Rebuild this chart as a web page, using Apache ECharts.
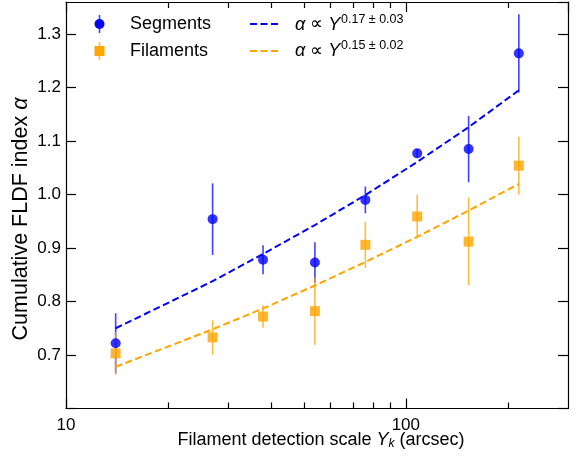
<!DOCTYPE html>
<html>
<head>
<meta charset="utf-8">
<script src="https://cdn.jsdelivr.net/npm/echarts@6/dist/echarts.min.js"></script>
<style>
  html, body { margin: 0; padding: 0; background: #fff; }
  #chart { width: 578px; height: 459px; }
</style>
</head>
<body>
<div id="chart"></div>
<script>
// filament detection scales (arcsec)
const scales = [14, 27, 38, 54, 76, 108, 153, 215]
// segments
const segAlpha = [0.722, 0.954, 0.878, 0.873, 0.990, 1.077, 1.085, 1.264]
const segErr = [0.056, 0.067, 0.027, 0.038, 0.025, 0.008, 0.062, 0.073]
// filaments
const filAlpha = [0.703, 0.733, 0.772, 0.782, 0.906, 0.959, 0.912, 1.054]
const filErr = [0.040, 0.032, 0.021, 0.063, 0.043, 0.041, 0.082, 0.054]
// fitted power laws
const segFit = [0.750, 0.838, 0.889, 0.943, 0.999, 1.061, 1.126, 1.195]
const filFit = [0.678, 0.748, 0.787, 0.830, 0.874, 0.921, 0.970, 1.020]
// minor ticks on the log axis
const minorTicks = [20, 30, 40, 50, 60, 70, 80, 90, 200]
const yTicks = [0.7, 0.8, 0.9, 1.0, 1.1, 1.2, 1.3]

const BLUE = '#0000ff'
const ORANGE = '#ffa500'
const FONT = '"Liberation Sans", Arial, Helvetica, sans-serif'

const chart = echarts.init(document.getElementById('chart'))

const pts = (ys) => scales.map((x, i) => [x, ys[i]])
const bars = (ys, es) => scales.map((x, i) => [x, ys[i] - es[i], ys[i] + es[i]])

function errBar (color) {
  return function (params, api) {
    const a = api.coord([api.value(0), api.value(1)])
    const b = api.coord([api.value(0), api.value(2)])
    return {
      type: 'line',
      shape: { x1: a[0], y1: a[1], x2: b[0], y2: b[1] },
      style: { stroke: color, lineWidth: 1.6, opacity: 0.75 }
    }
  }
}

function minorTick (params, api) {
  const cs = params.coordSys
  const p = api.coord([api.value(0), api.value(1)])
  const x = Math.round(p[0]) + 0.5
  const top = cs.y
  const bottom = cs.y + cs.height
  return {
    type: 'group',
    children: [
      { type: 'line', shape: { x1: x, y1: bottom, x2: x, y2: bottom - 6 }, style: { stroke: '#000', lineWidth: 1.2 } },
      { type: 'line', shape: { x1: x, y1: top, x2: x, y2: top + 6 }, style: { stroke: '#000', lineWidth: 1.2 } }
    ]
  }
}

const axisCommon = {
  axisLine: { show: true, onZero: false, lineStyle: { color: '#000', width: 1.2 } },
  axisTick: { show: true, inside: true, length: 10, lineStyle: { color: '#000', width: 1.2 } },
  splitLine: { show: false }
}

const xBase = {
  type: 'log',
  logBase: 10,
  min: 10,
  max: 300
}
const yBase = {
  type: 'value',
  min: 0.6,
  max: 1.36,
  interval: 0.1
}

const option = {
  animation: false,
  backgroundColor: '#fff',
  grid: { left: 66, right: 10, top: 2, bottom: 50.5 },
  xAxis: [
    Object.assign({}, xBase, axisCommon, {
      position: 'bottom',
      axisLabel: {
        color: '#000', fontSize: 17, fontFamily: FONT, margin: 8,
        showMaxLabel: false,
        formatter: v => (Math.abs(v - 10) < 1e-6 || Math.abs(v - 100) < 1e-6) ? String(Math.round(v)) : ''
      }
    }),
    Object.assign({}, xBase, axisCommon, {
      position: 'top',
      axisLabel: { show: false }
    })
  ],
  yAxis: [
    Object.assign({}, yBase, axisCommon, {
      position: 'left',
      axisLabel: {
        color: '#000', fontSize: 17, fontFamily: FONT, margin: 5,
        showMaxLabel: false,
        formatter: v => yTicks.some(t => Math.abs(t - v) < 1e-6) ? v.toFixed(1) : ''
      }
    }),
    Object.assign({}, yBase, axisCommon, {
      position: 'right',
      axisLabel: { show: false }
    })
  ],
  series: [
    {
      type: 'custom', name: 'minor', data: minorTicks.map(v => [v, 1]),
      encode: { x: 0, y: 1 },
      renderItem: minorTick, silent: true, clip: false, z: 1
    },
    {
      type: 'custom', name: 'segErr', data: bars(segAlpha, segErr),
      renderItem: errBar(BLUE), encode: { x: 0, y: [1, 2] }, z: 2
    },
    {
      type: 'custom', name: 'filErr', data: bars(filAlpha, filErr),
      renderItem: errBar(ORANGE), encode: { x: 0, y: [1, 2] }, z: 3
    },
    {
      type: 'scatter', name: 'Segments', data: pts(segAlpha),
      symbol: 'circle', symbolSize: 10, itemStyle: { color: BLUE }, z: 4
    },
    {
      type: 'scatter', name: 'Filaments', data: pts(filAlpha),
      symbol: 'rect', symbolSize: 10, itemStyle: { color: ORANGE }, z: 5
    },
    {
      type: 'line', name: 'segFit', data: pts(segFit), showSymbol: false, symbol: 'none',
      lineStyle: { color: BLUE, width: 2, type: [7, 3.5] }, z: 6
    },
    {
      type: 'line', name: 'filFit', data: pts(filFit), showSymbol: false, symbol: 'none',
      lineStyle: { color: ORANGE, width: 2, type: [7, 3.5] }, z: 6
    }
  ],
  graphic: [
    // legend: errorbar markers
    { type: 'line', shape: { x1: 99.5, y1: 15, x2: 99.5, y2: 33 }, style: { stroke: BLUE, lineWidth: 1.6, opacity: 0.75 } },
    { type: 'circle', shape: { cx: 99.5, cy: 24, r: 5 }, style: { fill: BLUE } },
    { type: 'text', x: 130, y: 24.5, style: { text: 'Segments', fontSize: 18, fontFamily: FONT, fill: '#000', verticalAlign: 'middle' } },
    { type: 'line', shape: { x1: 99.5, y1: 42, x2: 99.5, y2: 60 }, style: { stroke: ORANGE, lineWidth: 1.6, opacity: 0.75 } },
    { type: 'rect', shape: { x: 94.5, y: 46, width: 10, height: 10 }, style: { fill: ORANGE } },
    { type: 'text', x: 130, y: 51, style: { text: 'Filaments', fontSize: 18, fontFamily: FONT, fill: '#000', verticalAlign: 'middle' } },
    // legend: fit lines
    { type: 'line', shape: { x1: 250, y1: 24, x2: 281, y2: 24 }, style: { stroke: BLUE, lineWidth: 2, lineDash: [7, 3.5] } },
    {
      type: 'text', x: 295, y: 24.5,
      style: {
        text: '{i|α} ∝ {i|Y}', fontSize: 18, fontFamily: FONT, fill: '#000', verticalAlign: 'middle',
        rich: { i: { fontStyle: 'italic', fontSize: 18, fontFamily: FONT } }
      }
    },
    { type: 'text', x: 341, y: 19.5, style: { text: '0.17 ± 0.03', fontSize: 12.5, fontFamily: FONT, fill: '#000', verticalAlign: 'middle' } },
    { type: 'line', shape: { x1: 250, y1: 51, x2: 281, y2: 51 }, style: { stroke: ORANGE, lineWidth: 2, lineDash: [7, 3.5] } },
    {
      type: 'text', x: 295, y: 51,
      style: {
        text: '{i|α} ∝ {i|Y}', fontSize: 18, fontFamily: FONT, fill: '#000', verticalAlign: 'middle',
        rich: { i: { fontStyle: 'italic', fontSize: 18, fontFamily: FONT } }
      }
    },
    { type: 'text', x: 341, y: 46, style: { text: '0.15 ± 0.02', fontSize: 12.5, fontFamily: FONT, fill: '#000', verticalAlign: 'middle' } },
    // axis titles
    {
      type: 'text', x: 321, y: 440,
      style: {
        text: 'Filament detection scale {i|Y}{sub|k} (arcsec)', fontSize: 18, fontFamily: FONT, fill: '#000',
        align: 'center', verticalAlign: 'middle',
        rich: {
          i: { fontStyle: 'italic', fontSize: 18, fontFamily: FONT, lineHeight: 20 },
          sub: { fontStyle: 'italic', fontSize: 12, fontFamily: FONT, lineHeight: 12, verticalAlign: 'bottom' }
        }
      }
    },
    {
      type: 'text', x: 21, y: 219, rotation: Math.PI / 2,
      style: {
        text: 'Cumulative FLDF index {i|α}', fontSize: 21.5, fontFamily: FONT, fill: '#000',
        align: 'center', verticalAlign: 'middle',
        rich: { i: { fontStyle: 'italic', fontSize: 21.5, fontFamily: FONT } }
      }
    }
  ]
}

chart.setOption(option)
</script>
</body>
</html>
